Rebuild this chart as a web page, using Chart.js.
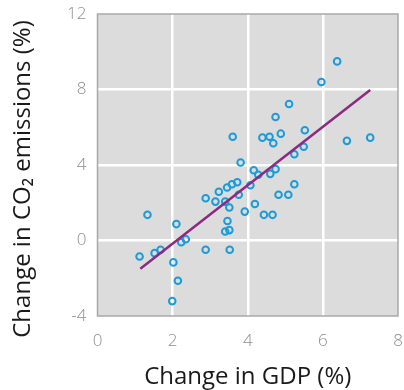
<!DOCTYPE html>
<html>
<head>
<meta charset="utf-8">
<script src="https://cdn.jsdelivr.net/npm/chart.js@4.4.1/dist/chart.umd.min.js"></script>
<style>
  html, body { margin: 0; padding: 0; background: #fff; }
  #wrap { width: 404px; height: 390px; }
</style>
</head>
<body>
<div id="wrap"><canvas id="chart" width="404" height="390"></canvas></div>
<script>
// GDP change (%) for each point
const gdpChange = [
  1.12, 1.33, 1.52, 1.68, 2.10, 2.02, 2.14, 1.99, 2.23, 2.35,
  2.88, 2.88, 3.14, 3.23, 3.40, 3.45, 3.58, 3.72, 3.51, 3.46,
  3.40, 3.51, 3.52, 3.81, 3.76, 3.92, 4.07, 4.16, 4.28, 4.19,
  4.43, 4.66, 4.60, 4.74, 4.82, 5.08, 5.24, 3.60, 4.39, 4.58,
  4.68, 4.74, 4.88, 5.10, 5.52, 5.49, 5.24, 5.96, 6.38, 6.64,
  7.26
]
// CO2 emissions change (%) for each point
const co2Change = [
  -0.85, 1.36, -0.67, -0.49, 0.87, -1.16, -2.13, -3.21, -0.09, 0.07,
  2.24, -0.49, 2.06, 2.58, 2.06, 2.81, 2.98, 3.09, 1.75, 1.03,
  0.48, 0.55, -0.49, 4.13, 2.42, 1.53, 2.93, 3.72, 3.48, 1.93,
  1.36, 1.36, 3.53, 3.78, 2.42, 2.42, 2.98, 5.50, 5.45, 5.50,
  5.15, 6.54, 5.66, 7.23, 5.84, 4.97, 4.57, 8.40, 9.49, 5.28,
  5.45
]
// fitted line ends
const fitX = [1.14, 7.26]
const fitY = [-1.5, 7.97]

const xTicks = [0, 2, 4, 6, 8]
const yTicks = [-4, 0, 4, 8, 12]

const xTitle = "Change in GDP (%)"
const yTitle = "Change in CO\u2082 emissions (%)"

const points = gdpChange.map((x, i) => ({ x: x, y: co2Change[i] }))
const fitLine = fitX.map((x, i) => ({ x: x, y: fitY[i] }))

// szare tło pola wykresu + ramka + tytuł osi Y
const plotBg = {
  id: "plotBg",
  beforeDraw(chart) {
    const { ctx, chartArea: a } = chart
    ctx.save()
    ctx.fillStyle = "#dcdcdc"
    ctx.fillRect(a.left, a.top, a.right - a.left, a.bottom - a.top)
    ctx.restore()
  },
  afterDatasetsDraw(chart) {
    const { ctx, chartArea: a } = chart
    ctx.save()
    ctx.strokeStyle = "#a9a9a9"
    ctx.lineWidth = 1.5
    ctx.strokeRect(a.left, a.top, a.right - a.left, a.bottom - a.top)
    ctx.restore()
  },
  afterDraw(chart) {
    const ctx = chart.ctx
    ctx.save()
    ctx.translate(23, 179)
    ctx.rotate(-Math.PI / 2)
    ctx.font = "24px 'Open Sans'"
    ctx.fillStyle = "#1a1a1a"
    ctx.textAlign = "center"
    ctx.textBaseline = "middle"
    ctx.fillText(yTitle, 0, 0)
    ctx.restore()
  }
}

const tickFont = { family: "'Open Sans'", size: 17, weight: "300" }

new Chart(document.getElementById("chart"), {
  type: "scatter",
  data: {
    datasets: [
      {
        type: "line",
        data: fitLine,
        borderColor: "#8b2a83",
        borderWidth: 2.5,
        pointRadius: 0,
        fill: false,
        order: 1
      },
      {
        data: points,
        pointRadius: 3.3,
        pointBorderWidth: 2,
        borderColor: "#1b9bd7",
        backgroundColor: "rgba(0,0,0,0)",
        order: 2
      }
    ]
  },
  options: {
    responsive: false,
    animation: false,
    layout: { padding: { top: 14, right: 4, left: 0, bottom: 0 } },
    plugins: { legend: { display: false }, tooltip: { enabled: false } },
    scales: {
      x: {
        type: "linear",
        min: 0, max: 8,
        afterBuildTicks: s => { s.ticks = xTicks.map(v => ({ value: v })) },
        afterFit: s => { s.height = 74; s.paddingLeft = 0; s.paddingRight = 0 },
        grid: {
          color: c => (c.tick.value === 0 || c.tick.value === 8) ? "rgba(0,0,0,0)" : "#ffffff",
          lineWidth: 2.5,
          drawTicks: false
        },
        border: { display: false },
        ticks: { font: tickFont, color: "#8e8e8e", padding: 15, maxRotation: 0 },
        title: {
          display: true,
          text: xTitle,
          font: { family: "'Open Sans'", size: 24 },
          color: "#1a1a1a",
          padding: { top: 0, bottom: -2 }
        }
      },
      y: {
        type: "linear",
        min: -4, max: 12,
        afterBuildTicks: s => { s.ticks = yTicks.map(v => ({ value: v })) },
        afterFit: s => { s.width = 97.5; s.paddingTop = 0; s.paddingBottom = 0 },
        grid: {
          color: c => (c.tick.value === -4 || c.tick.value === 12) ? "rgba(0,0,0,0)" : "#ffffff",
          lineWidth: 2.5,
          drawTicks: false
        },
        border: { display: false },
        ticks: { font: tickFont, color: "#8e8e8e", padding: 11 }
      }
    }
  },
  plugins: [plotBg]
})
</script>
</body>
</html>
